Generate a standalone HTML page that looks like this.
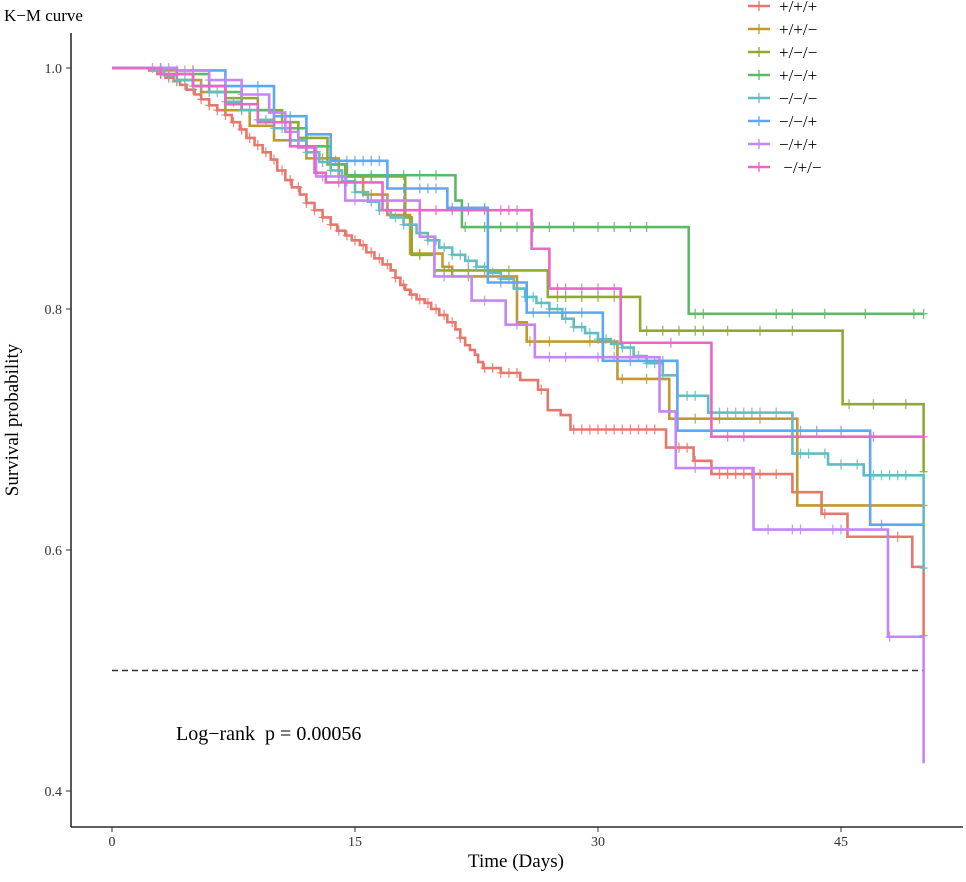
<!DOCTYPE html>
<html><head><meta charset="utf-8">
<style>
body{margin:0;background:#fff;}
svg text{font-family:"Liberation Serif",serif;}
</style></head>
<body>
<svg id="chart" width="966" height="877" viewBox="0 0 966 877" xmlns="http://www.w3.org/2000/svg">
<text x="4" y="21" font-size="17">K−M curve</text>
<g id="axes"></g>
<g id="series"></g>
<g id="legend"></g>
<text x="176" y="740" font-size="20" xml:space="preserve">Log−rank  p = 0.00056</text>
<text x="516" y="867" font-size="19" text-anchor="middle">Time (Days)</text>
<text transform="translate(18,420) rotate(-90)" font-size="19" text-anchor="middle">Survival probability</text>
</svg>
<script>
const groupNames = ["+/+/+","+/+/−","+/−/−","+/−/+","−/−/−","−/−/+","−/+/+","\u00a0−/+/−"];
const groupColors = ["#E7776C","#C4982F","#8EAB30","#5DB867","#62BDC0","#5BA8F5","#C585F7","#EA66C7"];
const xTicks = [0,15,30,45];
const yTicks = [0.4,0.6,0.8,1.0];
const yTickLabels = ["0.4","0.6","0.8","1.0"];
const medianLine = 0.5;

const redTimes = [0,2.3,2.8,3.3,3.8,4.2,4.6,5.1,5.5,6.0,6.5,7.0,7.4,7.9,8.3,8.8,9.3,9.8,10.2,10.7,11.1,11.6,12.0,12.5,13.0,13.5,13.9,14.4,14.8,15.3,15.7,16.2,16.7,17.2,17.5,17.8,18.1,18.4,18.8,19.3,19.7,20.2,20.7,21.2,21.5,21.8,22.1,22.4,22.6,22.9,24.0,25.2,26.3,26.9,27.7,28.3,34.2,35.9,37.0,42.0,43.8,45.4,49.4,50.1];
const redSurv  = [1,.998,.995,.992,.989,.986,.982,.978,.974,.969,.965,.961,.955,.949,.942,.936,.930,.924,.915,.907,.901,.895,.888,.882,.876,.870,.865,.861,.857,.853,.847,.842,.837,.832,.826,.820,.816,.812,.808,.805,.800,.795,.789,.783,.776,.770,.766,.762,.756,.751,.747,.741,.733,.716,.712,.700,.685,.674,.663,.648,.630,.611,.586,.529];
const goldTimes = [0,2.5,4,5.5,7,8.5,10,12,14,15.5,17,18.4,20.4,21.0,25.0,25.6,31.2,34.4,42.3];
const goldSurv  = [1,.998,.99,.98,.965,.952,.94,.925,.91,.895,.878,.846,.835,.827,.789,.773,.742,.709,.637];
const oliveTimes = [0,3,5,7,9,10.5,11.5,13.3,14.4,18.1,18.5,19.9,26.9,32.6,45.1,50.1];
const oliveSurv  = [1,.995,.985,.975,.965,.955,.942,.92,.91,.876,.845,.832,.81,.782,.721,.665];
const greenTimes = [0,4,6,8,10,12,13.5,14.5,21.2,21.6,35.6];
const greenSurv  = [1,.995,.98,.965,.95,.935,.92,.911,.89,.868,.796];
const tealTimes = [0,2.5,3.2,4,5,6,7,8,9,10,11,12,12.8,13.5,14.2,15,15.8,16.5,17.2,18,18.8,19.5,20.2,21,21.8,22.5,23.2,24,24.8,25.5,26.2,27,27.8,28.5,29.2,30,30.8,31.5,32.2,33,34,34.9,36.8,42,44.2,46.4,50.1];
const tealSurv  = [1,.998,.994,.99,.985,.98,.972,.965,.957,.95,.94,.93,.922,.915,.906,.897,.889,.882,.876,.87,.863,.857,.851,.845,.84,.835,.83,.825,.817,.81,.805,.8,.792,.785,.78,.775,.771,.768,.761,.755,.745,.728,.714,.68,.671,.662,.585];
const blueTimes = [0,4,7,10,12,13.5,17.0,20.7,23.2,25.6,30.3,34.9,46.8];
const blueSurv  = [1,.998,.985,.96,.945,.923,.90,.884,.822,.797,.757,.699,.621];
const purpleTimes = [0,4,6,8,9.7,10.7,11.5,12.6,14.4,19.0,19.9,22.2,24.3,26.1,33.8,34.8,39.6,47.9,50.1];
const purpleSurv  = [1,.998,.99,.978,.963,.947,.934,.910,.89,.86,.827,.807,.787,.760,.715,.668,.617,.528,.423];
const pinkTimes = [0,3,5,7,9,11,12.5,13.2,16.7,25.9,27.0,31.4,37.0];
const pinkSurv  = [1,.995,.985,.97,.955,.935,.913,.905,.882,.85,.817,.772,.694];
const endTime = 50.1;

const redCens = [3,3.5,4,4.5,5,5.5,6,6.5,7,7.5,8,8.5,9,9.5,10,10.5,11,11.5,12,12.5,13,13.5,14,14.5,15,15.5,16,16.5,17,17.5,18,18.5,19,19.5,20,20.5,21,21.5,23,23.5,24,24.5,25,26.5,28.5,29,29.5,30,30.5,31,31.5,32,32.5,33,33.5,35,35.5,36,37.5,38,38.5,39,39.5,40,41,44,48.5,50.1];
const goldCens = [3,5,8,11,13,16,19,20.8,22,24,25.8,27,29.5,31.5,33,36,37.5,40,50.1];
const oliveCens = [3,6,9,12,14,15,16,17,19,20.5,22,23,24.5,27.5,28,29,30,31,33,34,35,36,36.5,38,40,42,45.5,47,49,50.1];
const greenCens = [3,5,7,9,12,15,16,17,18,19,20,21.8,23,24,25,26,27,28.5,30,31,32,33,36,36.5,41,42,44,46.5,49.5,50.1];
const tealCens = [3,3.5,4,4.5,5,5.5,6,6.5,7,7.5,8,8.5,9,9.5,10,10.5,11,11.5,12,12.5,13,13.5,14,14.5,15,15.5,16,16.5,17,17.5,18,18.5,19,19.5,20,20.5,21,21.5,22,22.5,23,23.5,24,24.5,25,25.5,26,26.5,27,27.5,28,28.5,29,29.5,30,30.5,31,31.5,32,32.5,33,33.5,34,35.5,36,37,37.5,38,38.5,39,39.5,40,41,42.5,43,44,45,46,47,47.5,48,48.5,49,50.1];
const blueCens = [3,5,7,9,11,13.8,14.5,15,15.5,16,16.5,18,19,19.5,20,21,22,23,24,26,27,28,29,32,34,42.5,43.5,45,47.5];
const purpleCens = [2.5,3,3.5,4,4.5,5,6,7,8,9,10,11,12,13,14,15,16,17,18,20.5,23,25,27,28,30,31,32,36,40.5,42,42.5,44.5,45,48];
const pinkCens = [3,4,6,8,10,12,14,17,18,19,20,21,22,23,24,24.5,25,27.5,28,29,30,31,34.5,38,39,47,50.1];

const allTimes=[redTimes,goldTimes,oliveTimes,greenTimes,tealTimes,blueTimes,purpleTimes,pinkTimes];
const allSurv=[redSurv,goldSurv,oliveSurv,greenSurv,tealSurv,blueSurv,purpleSurv,pinkSurv];
const allCens=[redCens,goldCens,oliveCens,greenCens,tealCens,blueCens,purpleCens,pinkCens];
const seriesKeys=["red","gold","olive","green","teal","blue","purple","pink"];

const X0=112, XS=(841-112)/45, Y1=68, YS=(791-68)/0.6;
function xScale(d){return X0+d*XS;}
function yScale(s){return Y1+(1-s)*YS;}
const NS="http://www.w3.org/2000/svg";
function mk(tag,attrs,parent){const e=document.createElementNS(NS,tag);for(const k in attrs)e.setAttribute(k,attrs[k]);parent.appendChild(e);return e;}

const axes=document.getElementById('axes');
let l=mk('line',{x1:71,y1:33,x2:71,y2:827,stroke:'#000','stroke-width':1.3},axes);


l=mk('line',{x1:71,y1:827,x2:963,y2:827,stroke:'#000','stroke-width':1.3},axes);


xTicks.forEach(t=>{
  const x=xScale(t);
  const tk=mk('line',{x1:x,y1:827,x2:x,y2:832,stroke:'#333'},axes);
  
  
  const tx=mk('text',{x:x,y:846,'font-size':14,'text-anchor':'middle',fill:'#333'},axes);
  tx.textContent=t;
  
  
});
yTicks.forEach((t,i)=>{
  const y=yScale(t);
  const tk=mk('line',{x1:66,y1:y,x2:71,y2:y,stroke:'#333'},axes);
  
  
  const tx=mk('text',{x:62,y:y+5,'font-size':14,'text-anchor':'end',fill:'#333'},axes);
  tx.textContent=yTickLabels[i];
  
  
});
const ml=mk('line',{x1:xScale(0),y1:yScale(medianLine),x2:xScale(endTime),y2:yScale(medianLine),stroke:'#333','stroke-width':1.4,'stroke-dasharray':'6,4'},axes);



function survAt(ts,ss,t){let v=ss[0];for(let i=0;i<ts.length;i++){if(ts[i]<=t)v=ss[i];}return v;}
const sg=document.getElementById('series');
allTimes.forEach((ts,k)=>{
  const ss=allSurv[k], col=groupColors[k];
  const g=mk('g',{},sg);
  
  
  let d='M'+xScale(ts[0])+','+yScale(ss[0]);
  for(let i=1;i<ts.length;i++){d+=' H'+xScale(ts[i])+' V'+yScale(ss[i]);}
  const last=ts[ts.length-1];
  if(last<endTime)d+=' H'+xScale(endTime);
  const p=mk('path',{d:d,fill:'none',stroke:col,'stroke-width':2.6},g);
  
  
  let cd='';
  allCens[k].forEach(t=>{const x=xScale(t),y=yScale(survAt(ts,ss,t));cd+='M'+(x-4)+','+y+'H'+(x+4)+'M'+x+','+(y-5)+'V'+(y+5);});
  const c=mk('path',{d:cd,fill:'none',stroke:col,'stroke-width':1.3,opacity:0.85},g);
  
  
});

const lg=document.getElementById('legend');
groupNames.forEach((n,i)=>{
  const y=6+i*23;
  const g=mk('g',{},lg);
  
  
  mk('line',{x1:748,y1:y,x2:770,y2:y,stroke:groupColors[i],'stroke-width':2.6},g);
  mk('line',{x1:759,y1:y-5,x2:759,y2:y+5,stroke:groupColors[i],'stroke-width':1.3},g);
  const t=mk('text',{x:779,y:y+6,'font-size':17},g);
  t.textContent=n;
});
</script>
</body></html>
